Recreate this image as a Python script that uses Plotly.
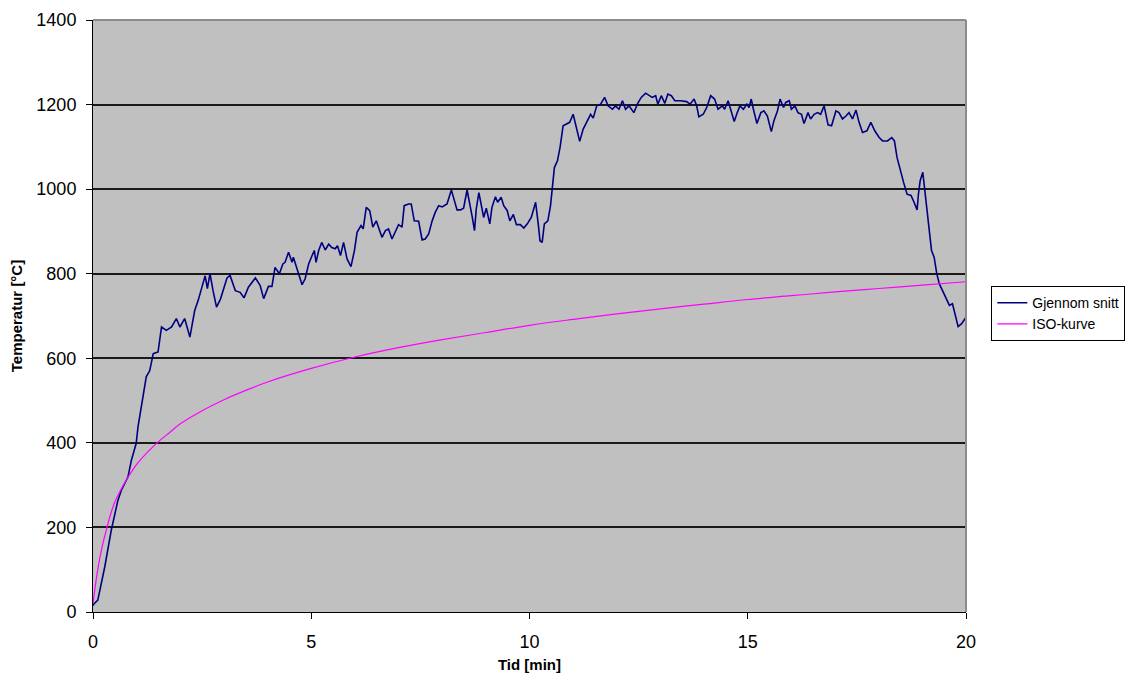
import plotly.graph_objects as go

# Gjennomsnittstemperatur (min, °C)
tid_snitt = [0.00, 0.02, 0.11, 0.27, 0.42, 0.57, 0.65, 0.80, 0.88, 0.99, 1.03, 1.11, 1.22, 1.30, 1.38,
             1.49, 1.57, 1.68, 1.80, 1.91, 1.99, 2.10, 2.22, 2.33, 2.41, 2.50, 2.57, 2.62, 2.68, 2.75,
             2.83, 2.92, 3.00, 3.07, 3.14, 3.26, 3.37, 3.46, 3.56, 3.72, 3.83, 3.91, 4.02, 4.10, 4.17,
             4.27, 4.35, 4.40, 4.48, 4.56, 4.59, 4.67, 4.79, 4.86, 4.94, 5.02, 5.07, 5.11, 5.17, 5.24,
             5.32, 5.40, 5.47, 5.55, 5.60, 5.67, 5.74, 5.82, 5.91, 5.99, 6.05, 6.14, 6.19, 6.26, 6.34,
             6.41, 6.49, 6.54, 6.62, 6.70, 6.77, 6.85, 6.93, 7.00, 7.08, 7.13, 7.23, 7.29, 7.36, 7.46,
             7.54, 7.61, 7.69, 7.77, 7.84, 7.92, 8.00, 8.11, 8.17, 8.21, 8.26, 8.34, 8.42, 8.49, 8.57,
             8.63, 8.69, 8.74, 8.78, 8.84, 8.89, 8.95, 9.01, 9.09, 9.14, 9.22, 9.27, 9.35, 9.41, 9.49,
             9.55, 9.63, 9.70, 9.79, 9.87, 9.95, 10.04, 10.14, 10.20, 10.24, 10.29, 10.34, 10.42, 10.48,
             10.52, 10.57, 10.64, 10.70, 10.77, 10.86, 10.92, 11.00, 11.08, 11.15, 11.23, 11.31, 11.40,
             11.46, 11.54, 11.63, 11.72, 11.80, 11.90, 11.97, 12.05, 12.13, 12.20, 12.28, 12.39, 12.48,
             12.56, 12.66, 12.74, 12.81, 12.89, 12.94, 13.02, 13.10, 13.17, 13.25, 13.33, 13.46, 13.60,
             13.68, 13.77, 13.83, 13.88, 13.98, 14.06, 14.15, 14.24, 14.32, 14.42, 14.47, 14.55, 14.61,
             14.69, 14.76, 14.82, 14.90, 14.98, 15.03, 15.08, 15.13, 15.21, 15.30, 15.37, 15.45, 15.54,
             15.60, 15.68, 15.74, 15.82, 15.87, 15.95, 16.00, 16.08, 16.15, 16.23, 16.29, 16.38, 16.44,
             16.52, 16.60, 16.67, 16.75, 16.79, 16.84, 16.92, 17.02, 17.09, 17.17, 17.25, 17.32, 17.40,
             17.48, 17.55, 17.63, 17.73, 17.82, 17.91, 18.01, 18.09, 18.20, 18.30, 18.36, 18.42, 18.49,
             18.57, 18.65, 18.74, 18.81, 18.88, 18.91, 18.95, 19.01, 19.04, 19.08, 19.12, 19.16, 19.21,
             19.27, 19.33, 19.39, 19.46, 19.54, 19.62, 19.69, 19.77, 19.82, 19.90, 20.00]
temp_snitt = [15, 19, 28, 107, 194, 264, 288, 319, 359, 399, 437, 485, 556, 571, 611,
              615, 674, 666, 674, 694, 674, 694, 650, 713, 737, 770, 795, 765, 800, 760,
              721, 740, 765, 790, 796, 760, 756, 743, 768, 790, 772, 741, 770, 770, 815,
              800, 823, 827, 851, 827, 839, 811, 774, 788, 823, 843, 855, 827, 855, 874,
              856, 870, 862, 859, 866, 843, 874, 835, 817, 855, 898, 914, 906, 957, 949,
              910, 925, 910, 886, 902, 906, 882, 902, 916, 910, 961, 965, 965, 925, 924,
              880, 882, 894, 925, 945, 961, 958, 965, 985, 998, 980, 951, 951, 955, 998,
              969, 933, 902, 953, 992, 965, 933, 955, 918, 957, 982, 969, 981, 961, 949,
              925, 940, 916, 916, 908, 918, 933, 969, 918, 878, 874, 918, 925, 960,
              1000, 1051, 1067, 1099, 1150, 1154, 1158, 1177, 1146, 1113, 1142, 1158, 1177,
              1168, 1197, 1201, 1217, 1197, 1189, 1197, 1189, 1209, 1189, 1197, 1181, 1203,
              1217, 1227, 1221, 1217, 1221, 1201, 1221, 1203, 1225, 1221, 1209, 1209, 1207,
              1201, 1213, 1197, 1171, 1177, 1193, 1221, 1213, 1189, 1197, 1189, 1209, 1185,
              1160, 1181, 1197, 1189, 1201, 1193, 1213, 1189, 1155, 1181, 1185, 1173, 1136,
              1162, 1185, 1213, 1193, 1205, 1209, 1189, 1197, 1181, 1177, 1155, 1181, 1166,
              1177, 1181, 1177, 1197, 1177, 1152, 1150, 1185, 1181, 1166, 1173, 1181, 1166,
              1187, 1158, 1134, 1138, 1158, 1138, 1122, 1114, 1114, 1122, 1114, 1075, 1044,
              1016, 988, 985, 969, 951, 988, 1020, 1040, 1012, 965, 925, 894, 855,
              839, 800, 776, 760, 741, 725, 729, 697, 675, 682, 697]

# ISO-kurve (min, °C)
tid_iso = [0.0, 0.1, 0.2, 0.3, 0.4, 0.5, 0.6, 0.8, 1.0, 1.25, 1.5, 1.75, 2.0, 2.5, 3.0, 3.5,
           4.0, 5.0, 6.0, 7.0, 8.0, 9.0, 10.0, 11.0, 12.0, 13.0, 14.0, 15.0, 16.0, 17.0,
           18.0, 19.0, 20.0]
temp_iso = [20, 95, 150, 192, 230, 260, 282, 318, 349, 378, 403, 424, 445, 476, 502, 524,
            544, 576, 603, 625, 644, 661, 678, 692, 705, 717, 728, 739, 748, 757,
            765, 773, 781]

x_ticks = [0, 5, 10, 15, 20]
y_ticks = [0, 200, 400, 600, 800, 1000, 1200, 1400]

font_family = "Liberation Sans, Arial, sans-serif"

fig = go.Figure()
fig.add_trace(go.Scatter(
    x=tid_snitt, y=temp_snitt, mode="lines", name="Gjennom snitt",
    line=dict(color="#000080", width=1.6),
))
fig.add_trace(go.Scatter(
    x=tid_iso, y=temp_iso, mode="lines", name="ISO-kurve",
    line=dict(color="#FF00FF", width=1.2, shape="spline"),
))

fig.update_layout(
    width=1127, height=680,
    margin=dict(l=93, r=161, t=20, b=68, autoexpand=False),
    paper_bgcolor="white",
    plot_bgcolor="#C0C0C0",
    font=dict(family=font_family, color="black", size=18),
    showlegend=True,
    legend=dict(
        x=1.029, y=0.504, xanchor="left", yanchor="middle",
        bgcolor="white", bordercolor="black", borderwidth=1,
        font=dict(size=14, family=font_family),
        tracegroupgap=0, itemwidth=30,
    ),
    xaxis=dict(
        range=[0, 20], tickvals=x_ticks, ticks="outside", ticklen=6, tickcolor="black",
        showgrid=False, zeroline=False, showline=True, linecolor="black", linewidth=1,
        tickfont=dict(size=18), ticklabelstandoff=7, automargin=False,
        title=dict(text="<b>Tid [min]</b>", font=dict(size=15), standoff=8),
    ),
    yaxis=dict(
        range=[0, 1400], tickvals=y_ticks, ticks="outside", ticklen=6, tickcolor="black",
        showgrid=True, gridcolor="#1A1A1A", gridwidth=1.5, zeroline=False,
        showline=True, linecolor="black", linewidth=1,
        tickfont=dict(size=18), ticklabelstandoff=6, automargin=False,
        title=dict(text="<b>Temperatur [°C]</b>", font=dict(size=15), standoff=10),
    ),
)

# grey frame along the top and right edge of the plot area
fig.add_shape(type="line", xref="x domain", yref="y domain", x0=0, x1=1, y0=1, y1=1,
              line=dict(color="#8C8C8C", width=2), layer="above")
fig.add_shape(type="line", xref="x domain", yref="y domain", x0=1, x1=1, y0=0, y1=1,
              line=dict(color="#8C8C8C", width=2), layer="above")

fig.write_html("out.html")
